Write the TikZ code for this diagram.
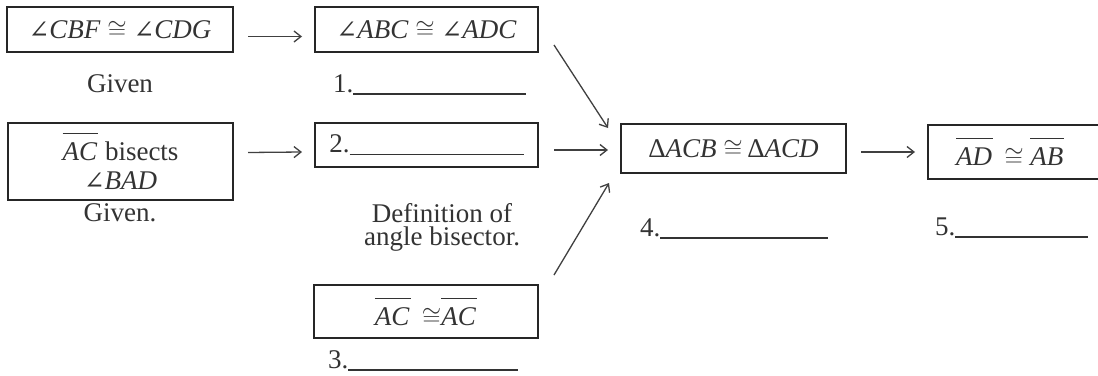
\documentclass[tikz,border=0pt]{standalone}
\usepackage{fontspec}
\setmainfont{Liberation Serif}
\newfontfamily\symfnt{DejaVu Serif}
\usetikzlibrary{arrows.meta,calc}
\newcommand{\myang}{{\symfnt\fontsize{25}{29}\selectfont ∠}}
\newcommand{\myseg}[1]{$\overline{\mbox{\rule{0pt}{26pt}\textit{#1}\kern1pt}}$}
\newcommand{\myblank}[1]{\rule[-2.5pt]{#1}{1.2pt}}
\tikzset{
  box/.style={draw=black!85, line width=2pt, inner sep=0pt},
  arr/.style={-{Straight Barb[length=7pt,width=11pt]}, line width=1.3pt, draw=black!75},
  lbl/.style={inner sep=0pt}
}
\begin{document}
\begin{tikzpicture}[x=1pt,y=-1pt, every node/.style={font=\fontsize{27}{29}\selectfont, text=black!80}]
\fill[white] (0,0) rectangle (1098,375);
\useasboundingbox (0,0) rectangle (1098,375);
% boxes
\node[box, minimum width=226pt, minimum height=45pt] (b1) at (120,29.5) {\myang\textit{CBF} $\cong$ \myang\textit{CDG}};
\node[box, minimum width=223pt, minimum height=45pt] (b2) at (426.5,29.5) {\myang\textit{ABC} $\cong$ \myang\textit{ADC}};
\node[box, minimum width=225pt, minimum height=77pt, align=center] (b3) at (120.5,161.5) {\myseg{AC} bisects\\\myang\textit{BAD}};
\node[box, minimum width=223pt, minimum height=44pt] (b4) at (426.5,145) {2.\myblank{174pt}};
\node[box, minimum width=225pt, minimum height=49pt] (b5) at (733.5,148.5) {Δ\textit{ACB} $\cong$\,Δ\textit{ACD}};
\node[box, anchor=west, minimum width=190pt, minimum height=54pt] (b6) at (927,152) {\makebox[190pt][l]{\hspace{28pt}\myseg{AD} \,$\cong$ \myseg{AB}}};
\node[box, minimum width=224pt, minimum height=53pt] (b7) at (426,311.5) {\myseg{AC} \,$\cong$\myseg{AC}};
% labels
\node[lbl, anchor=base] (g1) at (120,92) {Given};
\node[lbl, anchor=base west] (r1) at (333,92) {1.\myblank{173pt}};
\node[lbl, anchor=base] (g2) at (120,221) {Given.};
\node[lbl, anchor=base, align=center] (d1) at (442,222) {Definition of};
\node[lbl, anchor=base, align=center] (d2) at (442,245) {angle bisector.};
\node[lbl, anchor=base west] (r3) at (328,368) {3.\myblank{170pt}};
\node[lbl, anchor=base west] (r4) at (640,236) {4.\myblank{168pt}};
\node[lbl, anchor=base west] (r5) at (935,235) {5.\myblank{133pt}};
% arrows
\draw[arr] ($(b1.east)+(14,7)$) -- ($(b2.west)+(-12,7)$);
\draw[arr] ($(b3.east)+(14,-9)$) -- ($(b4.west)+(-12,7)$);
\draw[arr] ($(b4.east)+(15,5)$) -- ($(b5.west)+(-12,1.5)$);
\draw[arr] ($(b2.south east)+(15,-8)$) -- ($(b5.north west)+(-12,5)$);
\draw[arr] ($(b7.north east)+(15,-9)$) -- ($(b5.south west)+(-11,9)$);
\draw[arr] ($(b5.east)+(14,3.5)$) -- ($(b6.west)+(-12,0)$);
\end{tikzpicture}
\end{document}
